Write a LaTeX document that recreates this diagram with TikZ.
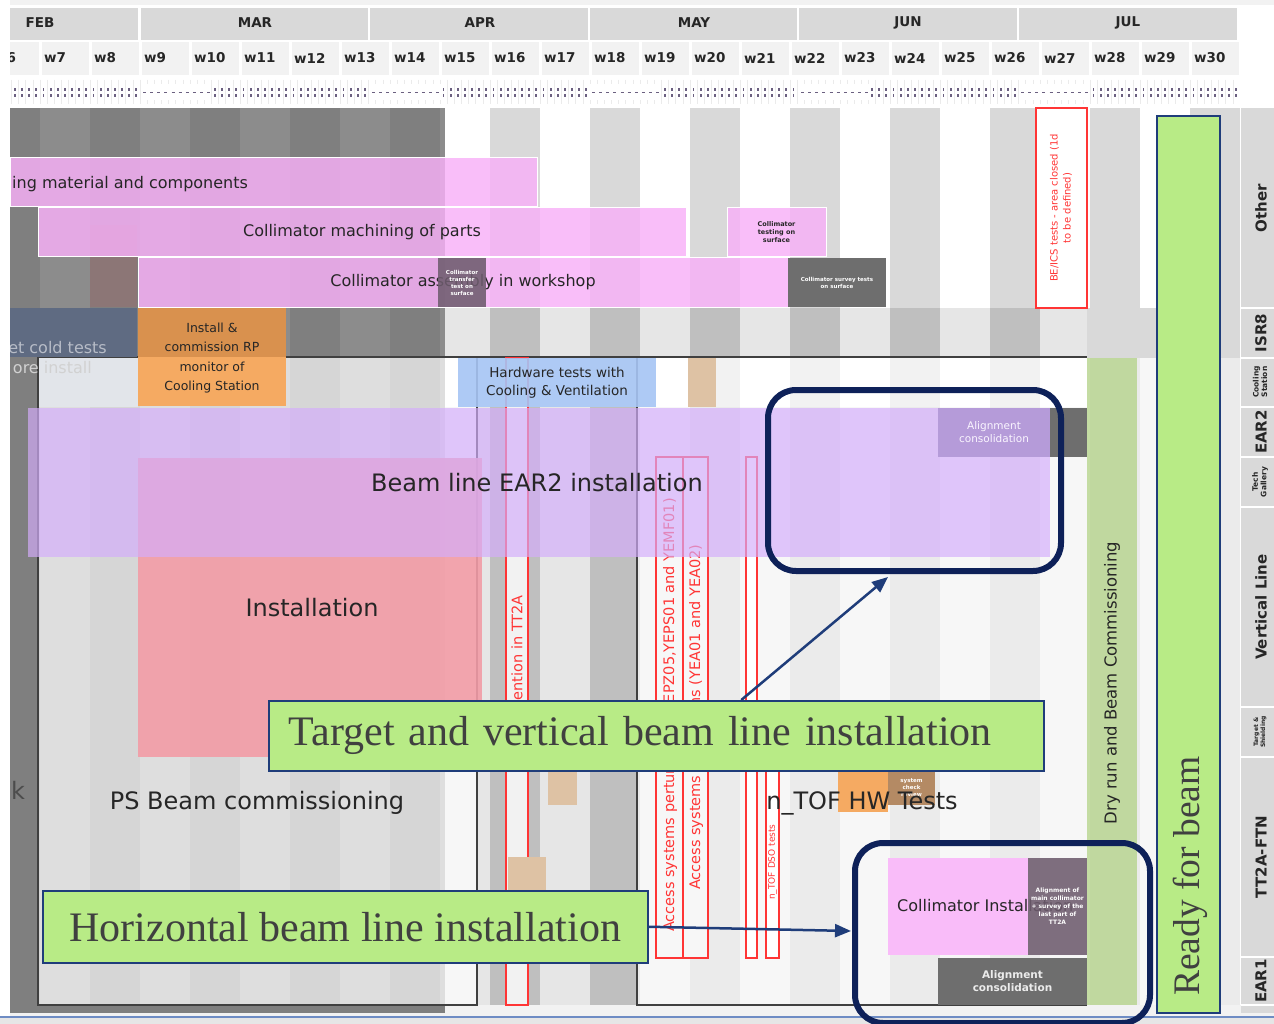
\documentclass[tikz,border=0pt]{standalone}
\usepackage{fontspec}
\setmainfont{DejaVu Sans}
\newfontfamily\serifcall{Liberation Serif}
\usetikzlibrary{arrows.meta}
\definecolor{navy}{HTML}{0E2159}
\definecolor{cbg}{HTML}{B8EB86}
\definecolor{cbd}{HTML}{1F3D7A}
\definecolor{dk1}{HTML}{7F7F7F}
\definecolor{dk2}{HTML}{8C8C8C}
\definecolor{hdr}{HTML}{D9D9D9}
\definecolor{wk}{HTML}{F2F2F2}
\definecolor{isrd}{HTML}{BFBFBF}
\definecolor{isrl}{HTML}{E6E6E6}
\definecolor{lpa}{HTML}{D6D6D6}
\definecolor{lpb}{HTML}{DEDEDE}
\definecolor{rpa}{HTML}{EBEBEB}
\definecolor{rpb}{HTML}{F7F7F7}
\definecolor{cool}{HTML}{E2E5EA}
\definecolor{tickc}{HTML}{6B6080}
\definecolor{pinkc}{RGB}{248,176,248}
\definecolor{lav}{RGB}{212,173,252}
\definecolor{salm}{RGB}{242,156,166}
\definecolor{orng}{HTML}{F5AA62}
\definecolor{orng2}{HTML}{D9914E}
\definecolor{slate}{HTML}{5F6B82}
\definecolor{blu}{HTML}{A6C5F4}
\definecolor{tanc}{HTML}{DEC2A4}
\definecolor{brn}{HTML}{B48A64}
\definecolor{mauve}{RGB}{140,118,118}
\definecolor{redb}{HTML}{FF3535}
\definecolor{dgray}{HTML}{6E6E6E}
\definecolor{dpur}{HTML}{6E5C6E}
\definecolor{algn}{HTML}{B59BD9}
\definecolor{dryg}{RGB}{172,208,124}
\definecolor{txt}{HTML}{262626}
\definecolor{seriftxt}{HTML}{404040}
\definecolor{slideline}{HTML}{6E8CC4}
\newcommand\bx[7]{\node[#6,anchor=north west,minimum width={#4-#2},minimum height={#5-#3},inner sep=0pt,outer sep=0pt] (#1) at (#2,#3) {#7};}
\newcommand\stripes[6]{\begin{scope}\clip (#1,#2) rectangle (#3,#4);
 \foreach \k in {6,...,30}{\pgfmathtruncatemacro\xl{50*\k-310}\pgfmathtruncatemacro\pa{mod(\k,2)}%
 \ifnum\pa=0 \fill[#5] (\xl,#2) rectangle (\xl+50,#4);\else \fill[#6] (\xl,#2) rectangle (\xl+50,#4);\fi}
 \end{scope}}
\begin{document}
\begin{tikzpicture}[x=1pt,y=-1pt,
  hd/.style={inner sep=0pt,text=txt,font=\bfseries\fontsize{13.5}{15}\selectfont},
  lbl/.style={inner sep=0pt,text=txt,font=\fontsize{16}{18}\selectfont},
  lblb/.style={inner sep=0pt,text=txt,font=\fontsize{24}{27}\selectfont},
  tny/.style={align=center,text=white,font=\bfseries\fontsize{5.5}{7}\selectfont},
  pbar/.style={fill=pinkc,fill opacity=0.82,text opacity=1,draw=white,line width=1pt,text=txt,font=\fontsize{16}{18}\selectfont},
  rbox/.style={draw=redb,line width=1.2pt,fill=wk},
  rtxt/.style={inner sep=0pt,text=redb,rotate=90,font=\fontsize{14.5}{16}\selectfont},
  side/.style={rotate=90,inner sep=0pt,align=center,text=txt,font=\bfseries\fontsize{15}{16}\selectfont},
  sidesm/.style={rotate=90,inner sep=0pt,align=center,text=txt,font=\bfseries\fontsize{7.5}{8.5}\selectfont},
  cbox/.style={draw=cbd,line width=1.5pt,fill=cbg,text=seriftxt,font=\serifcall\fontsize{42}{46}\selectfont},
  callout/.style={draw=navy,line width=6pt,rounded corners=28pt},
  arr/.style={draw=cbd,line width=2.5pt,-{Triangle[length=16pt,width=13pt]}}]
\useasboundingbox (0,0) rectangle (1274,1024);
\fill[white] (0,0) rectangle (1274,1024);
\begin{scope}
\clip (10,0) rectangle (1274,1024);
% ---------- header ----------
\fill[wk] (0,0) rectangle (1274,5);
\foreach \a/\b/\m/\c in {0/138/FEB/40,141/368/MAR/255,370/588/APR/480,590/797/MAY/694,799/1017/JUN/908,1019/1237/JUL/1128}{
  \fill[hdr] (\a,8) rectangle (\b,40);
  \node[hd] (m\m) at (\c,23) {\m};}
\foreach \k in {6,...,30}{\pgfmathtruncatemacro\xl{50*\k-310}
  \fill[wk] (\xl+1.5,42) rectangle (\xl+48.5,75);
  \node[hd,anchor=west] (w\k) at (\xl+4,58) {w\k};}
\begin{scope}
\clip (10,78) rectangle (1237,106);
\foreach \i in {-4,...,168}{\pgfmathsetmacro\tx{40+\i*50/7}
  \draw[black!8,line width=0.6pt] (\tx,80) -- (\tx,104);
  \fill[tickc] (\tx+2.6,88) rectangle (\tx+4.4,91.5);
  \fill[tickc] (\tx+2.6,94) rectangle (\tx+4.4,97.5);}
\foreach \a/\b in {141/210,370/441,590/660,799/870,1019/1088}{
  \fill[white] (\a,84) rectangle (\b,100);
  \draw[tickc,line width=1.2pt,dash pattern=on 3pt off 4.14pt] (\a+2,92.5) -- (\b,92.5);}
\end{scope}
% ---------- backgrounds ----------
\stripes{10}{108}{445}{358}{dk1}{dk2}
\stripes{445}{108}{1240}{308}{hdr}{white}
\stripes{445}{308}{1240}{358}{isrd}{isrl}
\stripes{37}{358}{477}{1005}{lpa}{lpb}
\stripes{477}{358}{637}{1005}{isrd}{isrl}
\stripes{637}{358}{1240}{1005}{rpa}{rpb}
\stripes{445}{358}{1087}{407}{wk}{white}
\fill[rpb] (445,407) rectangle (477,1005);
\fill[dk1] (10,358) rectangle (37,1013);
\fill[cool] (37,358) rectangle (138,407);
\fill[hdr] (1087,308) rectangle (1240,358);
% bottom strip
\fill[wk] (10,1005) rectangle (1274,1024);
\fill[dk1] (10,1005) rectangle (445,1013);
% frame lines
\draw[black!75,line width=1.8pt] (38,357) -- (1087,357);
\draw[black!75,line width=1.8pt] (38,357) -- (38,1005) -- (477,1005) -- (477,357);
\draw[black!75,line width=1.8pt] (637,357) -- (637,1005) -- (1087,1005);
% ---------- upper bars ----------
\fill[mauve] (90,225) rectangle (137,307);
\bx{p1}{10}{158}{537}{207}{pbar}{}
\node[lbl,anchor=west] (p1t) at (12,184) {ing material and components};
\bx{p2}{38}{208}{686}{257}{pbar}{Collimator machining of parts}
\bx{p3}{727}{208}{826}{257}{pbar,align=center,font=\bfseries\fontsize{6.5}{8}\selectfont}{Collimator\\testing on\\surface}
\bx{p4}{138}{258}{788}{307}{pbar}{Collimator assembly in workshop}
\bx{d1}{438}{258}{486}{307}{tny,fill=dpur,fill opacity=0.88,text opacity=1}{Collimator\\transfer\\test on\\surface}
\bx{d2}{788}{258}{886}{307}{tny,fill=dgray}{Collimator survey tests\\on surface}
\bx{r0}{1036}{108}{1087}{308}{rbox,fill=white}{}
\node[rtxt,align=center,font=\fontsize{10}{13}\selectfont] (r0t) at (1061,208) {BE/ICS tests - area closed (1d\\to be defined)};
% ---------- lower: red boxes first ----------
\bx{inst}{138}{458}{482}{757}{fill=salm,fill opacity=0.9}{}
\node[lblb] (instt) at (312,608) {Installation};
\bx{ra}{506}{358}{528}{1005}{rbox}{}
\node[rtxt,anchor=west] (rat) at (517,743) {Intervention in TT2A};
\bx{rb1}{656}{457}{683}{958}{rbox,fill=rpb}{}
\node[rtxt,anchor=west] (rb1t) at (670,932) {Access systems perturbation (YEPZ05,YEPS01 and YEMF01)};
\bx{rb2}{683}{457}{708}{958}{rbox,fill=rpb}{}
\node[rtxt,anchor=west] (rb2t) at (696,890) {Access systems and alarms (YEA01 and YEA02)};
\bx{rc}{746}{457}{757}{958}{rbox,fill=white}{}
\bx{rd}{766}{745}{779}{958}{rbox,fill=white}{}
\node[rtxt,anchor=west,font=\fontsize{9}{10}\selectfont] (rdt) at (772.5,900) {n\_TOF DSO tests};
% ---------- ISR8 / cooling row ----------
\bx{sl}{10}{308}{137}{357}{fill=slate}{}
\node[lbl,text=slate!45!white,anchor=east] (slt) at (107,348) {et cold tests};
\node[lbl,text=black!18,anchor=east] (ore) at (92,368) {ore install};
\fill[orng2] (138,308) rectangle (286,357);
\bx{or}{138}{357}{286}{406}{fill=orng}{}
\node[align=center,text=txt,font=\fontsize{12.5}{19.5}\selectfont] (ort) at (212,358) {Install \&\\commission RP\\monitor of\\Cooling Station};
\bx{hw}{458}{358}{656}{407}{fill=blu,fill opacity=0.9,text opacity=1,align=center,text=txt,font=\fontsize{13.5}{18}\selectfont}{Hardware tests with\\Cooling \& Ventilation}
\bx{t1}{688}{358}{716}{407}{fill=tanc}{}
% lavender
\bx{lv}{28}{408}{1050}{557}{fill=lav,fill opacity=0.67}{}
\node[lblb] (lvt) at (537,483) {Beam line EAR2 installation};
\bx{ac1}{938}{408}{1050}{457}{fill=algn,align=center,text=white!88!lav,font=\fontsize{10.5}{13}\selectfont}{Alignment\\consolidation}
\bx{dk}{1050}{408}{1087}{457}{fill=dgray}{}
% small tan and n_TOF boxes
\bx{t2}{548}{757}{577}{805}{fill=tanc}{}
\bx{t3}{508}{857}{520}{900}{fill=tanc}{}
\bx{t4}{520}{857}{546}{900}{fill=tanc}{}
\bx{nt1}{838}{770}{888}{812}{fill=orng}{}
\bx{nt2}{888}{770}{935}{805}{tny,fill=brn}{system\\check\\review}
\node[lblb] (ntt) at (862,803) {n\_TOF HW Tests};
\node[lblb] (psb) at (257,803) {PS Beam commissioning};
\node[lblb,text=black!70] (kk) at (18,790) {k};
% collimator installation
\bx{ci}{888}{858}{1028}{955}{fill=pinkc!85!white}{}
\node[lbl,anchor=west] (cit) at (897,906) {Collimator Installation};
\bx{cid}{1028}{858}{1087}{955}{tny,fill=dpur,fill opacity=0.88,text opacity=1,font=\bfseries\fontsize{6}{8}\selectfont}{Alignment of\\main collimator\\+ survey of the\\last part of\\TT2A}
\bx{ac2}{938}{958}{1087}{1005}{fill=dgray,align=center,text=white!92!black,font=\bfseries\fontsize{10.5}{13}\selectfont}{Alignment\\consolidation}
% dry run
\bx{dry}{1087}{358}{1137}{1005}{fill=dryg,fill opacity=0.68}{}
\node[rotate=90,inner sep=0pt,text=txt,font=\fontsize{16.5}{18}\selectfont] (dryt) at (1112,683) {Dry run and Beam Commissioning};
% ready for beam
\bx{rfb}{1157}{116}{1220}{1013}{fill=cbg,draw=cbd,line width=1.3pt}{}
\node[rotate=90,inner sep=0pt,text=seriftxt,font=\serifcall\fontsize{37.5}{40}\selectfont] (rfbt) at (1190,876) {Ready for beam};
% right label column
\fill[hdr] (1241,108) rectangle (1274,1013);
\foreach \yy in {308,358,407,457,507,707,757,957,1005}{\draw[white,line width=2.5pt] (1241,\yy) -- (1274,\yy);}
\node[side] (sOther) at (1261,208) {Other};
\node[side] (sISR) at (1261,333) {ISR8};
\node[sidesm] (sCool) at (1260,382) {Cooling\\Station};
\node[side] (sEAR2) at (1261,432) {EAR2};
\node[sidesm] (sTech) at (1260,482) {Tech\\Gallery};
\node[side] (sVert) at (1261,607) {Vertical Line};
\node[sidesm,font=\bfseries\fontsize{6}{7}\selectfont] (sTgt) at (1260,732) {Target \&\\Shielding};
\node[side] (sTT2) at (1261,857) {TT2A-FTN};
\node[side] (sEAR1) at (1261,981) {EAR1};
\end{scope}
% slide line
\fill[isrl] (0,1018) rectangle (1274,1024);
\draw[slideline,line width=2pt] (0,1017) -- (1274,1017);
% ---------- callouts ----------
\node[callout,anchor=north west,minimum width=293pt,minimum height=181pt,inner sep=0pt] (co1) at (765,387) {};
\node[callout,anchor=north west,minimum width=295pt,minimum height=180pt,inner sep=0pt] (co2) at (852,840) {};
\node[cbox,anchor=north west,minimum width=775pt,minimum height=70pt,text width=735pt,align=left,inner xsep=20pt,inner ysep=0pt] (tv) at (268,700) {Target and vertical beam line installation};
\node[cbox,anchor=north west,minimum width=605pt,minimum height=72pt,inner sep=0pt] (hb) at (42,890) {Horizontal beam line installation};
\coordinate (a1e) at (888,577);
\coordinate (a2e) at (851,931);
\draw[arr] ([xshift=85pt]tv.north) -- (a1e);
\draw[arr] (hb.east) -- (a2e);
\end{tikzpicture}
\end{document}
